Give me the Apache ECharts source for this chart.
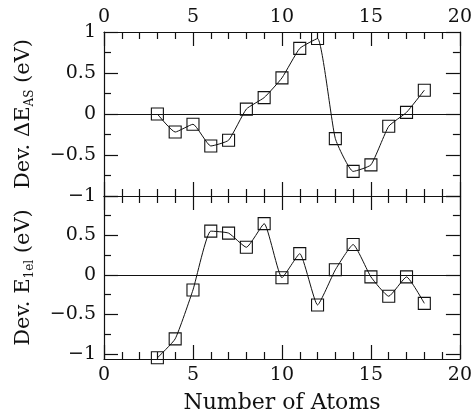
<!DOCTYPE html>
<html>
<head>
<meta charset="utf-8">
<script src="https://cdn.jsdelivr.net/npm/echarts@6/dist/echarts.min.js"></script>
<style>html,body{margin:0;padding:0;background:#fff;}#c{width:475px;height:415px;}</style>
</head>
<body>
<div id="c"></div>
<script>
// Data
const atoms = [3, 4, 5, 6, 7, 8, 9, 10, 11, 12, 13, 14, 15, 16, 17, 18];
const devEAS = [0.0, -0.22, -0.125, -0.39, -0.32, 0.06, 0.2, 0.44, 0.80, 0.92, -0.30, -0.70, -0.62, -0.15, 0.02, 0.29];
const devE1el = [-1.05, -0.81, -0.19, 0.555, 0.53, 0.35, 0.65, -0.035, 0.27, -0.38, 0.065, 0.385, -0.025, -0.27, -0.025, -0.36];
const xTicks = [0, 5, 10, 15, 20];
const topYTicks = [-1, -0.5, 0, 0.5, 1];
const botYLabels = [-1, -0.5, 0, 0.5];
const botYMajor = [-1, -0.5, 0, 0.5, 1];
const botYMinor = [-0.75, -0.25, 0.25, 0.75];

const FONT = 'DejaVu Serif';
const INK = '#111';
const fmt = v => (v < 0 ? '\u2212' + String(-v) : String(v));

const mkLine = () => ({ show: true, onZero: false, lineStyle: { color: INK, width: 1.2 } });
const lbl = (show, extra) => Object.assign({ show: show, fontFamily: FONT, fontSize: 19, color: INK, formatter: fmt }, extra || {});

function xAx(grid, pos, showLabel, extra) {
  return Object.assign({
    type: 'value', gridIndex: grid, position: pos, min: 0, max: 20, interval: 5,
    axisLine: mkLine(),
    axisTick: { show: true, inside: true, length: 14, lineStyle: { color: INK, width: 1.2 } },
    minorTick: { show: true, splitNumber: 5, length: 7, lineStyle: { color: INK, width: 1.2 } },
    axisLabel: lbl(showLabel, { margin: pos === 'top' ? 5 : 7 }),
    splitLine: { show: false }, minorSplitLine: { show: false }
  }, extra || {});
}

const nameRich = {
  n: { fontFamily: FONT, fontSize: 21, color: INK, lineHeight: 25 },
  s: { fontFamily: FONT, fontSize: 12, color: INK, verticalAlign: 'bottom', lineHeight: 12 }
};

function yTop(pos, showLabel, extra) {
  return Object.assign({
    type: 'value', gridIndex: 0, position: pos, min: -1, max: 1, interval: 0.5,
    axisLine: mkLine(),
    axisTick: { show: true, inside: true, length: 14, lineStyle: { color: INK, width: 1.2 } },
    minorTick: { show: true, splitNumber: 2, length: 7, lineStyle: { color: INK, width: 1.2 } },
    axisLabel: lbl(showLabel, { margin: 8 }),
    splitLine: { show: false }, minorSplitLine: { show: false }
  }, extra || {});
}

function yBot(pos, showLabel, major, extra) {
  return Object.assign({
    type: 'value', gridIndex: 1, position: pos, min: -1.065, max: 1,
    axisLine: major ? mkLine() : { show: false, onZero: false },
    axisTick: { show: true, inside: true, length: major ? 14 : 7, customValues: major ? botYMajor : botYMinor, lineStyle: { color: INK, width: 1.2 } },
    minorTick: { show: false },
    axisLabel: lbl(showLabel, { margin: 8, customValues: botYLabels }),
    splitLine: { show: false }
  }, extra || {});
}

const zeroLine = {
  symbol: 'none', silent: true, label: { show: false },
  lineStyle: { color: INK, width: 1, type: 'solid' },
  data: [{ yAxis: 0 }]
};

function series(vals, xi, yi) {
  return {
    type: 'line', xAxisIndex: xi, yAxisIndex: yi,
    data: atoms.map((a, i) => [a, vals[i]]),
    symbol: 'rect', symbolSize: 12, smooth: 0.15,
    itemStyle: { color: 'rgba(0,0,0,0)', borderColor: INK, borderWidth: 1.1 },
    lineStyle: { color: INK, width: 1 },
    emphasis: { disabled: true },
    markLine: zeroLine,
    clip: false
  };
}

const chart = echarts.init(document.getElementById('c'), null, { renderer: 'canvas' });
chart.setOption({
  backgroundColor: '#fff',
  animation: false,
  grid: [
    { left: 104, right: 15, top: 32, height: 164 },
    { left: 104, right: 15, top: 196, height: 163 }
  ],
  xAxis: [
    xAx(0, 'top', true),
    xAx(0, 'bottom', false),
    xAx(1, 'top', false),
    xAx(1, 'bottom', true, {
      name: 'Number of Atoms', nameLocation: 'middle', nameGap: 33,
      nameTextStyle: { fontFamily: FONT, fontSize: 22, color: INK }
    })
  ],
  yAxis: [
    yTop('left', true, {
      name: '{n|Dev. \u0394E}{s|AS}{n| (eV)}', nameLocation: 'middle', nameGap: 68,
      nameTextStyle: { rich: nameRich }
    }),
    yTop('right', false),
    yBot('left', true, true, {
      name: '{n|Dev. E}{s|1el}{n| (eV)}', nameLocation: 'middle', nameGap: 68,
      nameTextStyle: { rich: nameRich }
    }),
    yBot('left', false, false),
    yBot('right', false, true),
    yBot('right', false, false)
  ],
  series: [
    series(devEAS, 0, 0),
    series(devE1el, 3, 2)
  ]
});
</script>
</body>
</html>
